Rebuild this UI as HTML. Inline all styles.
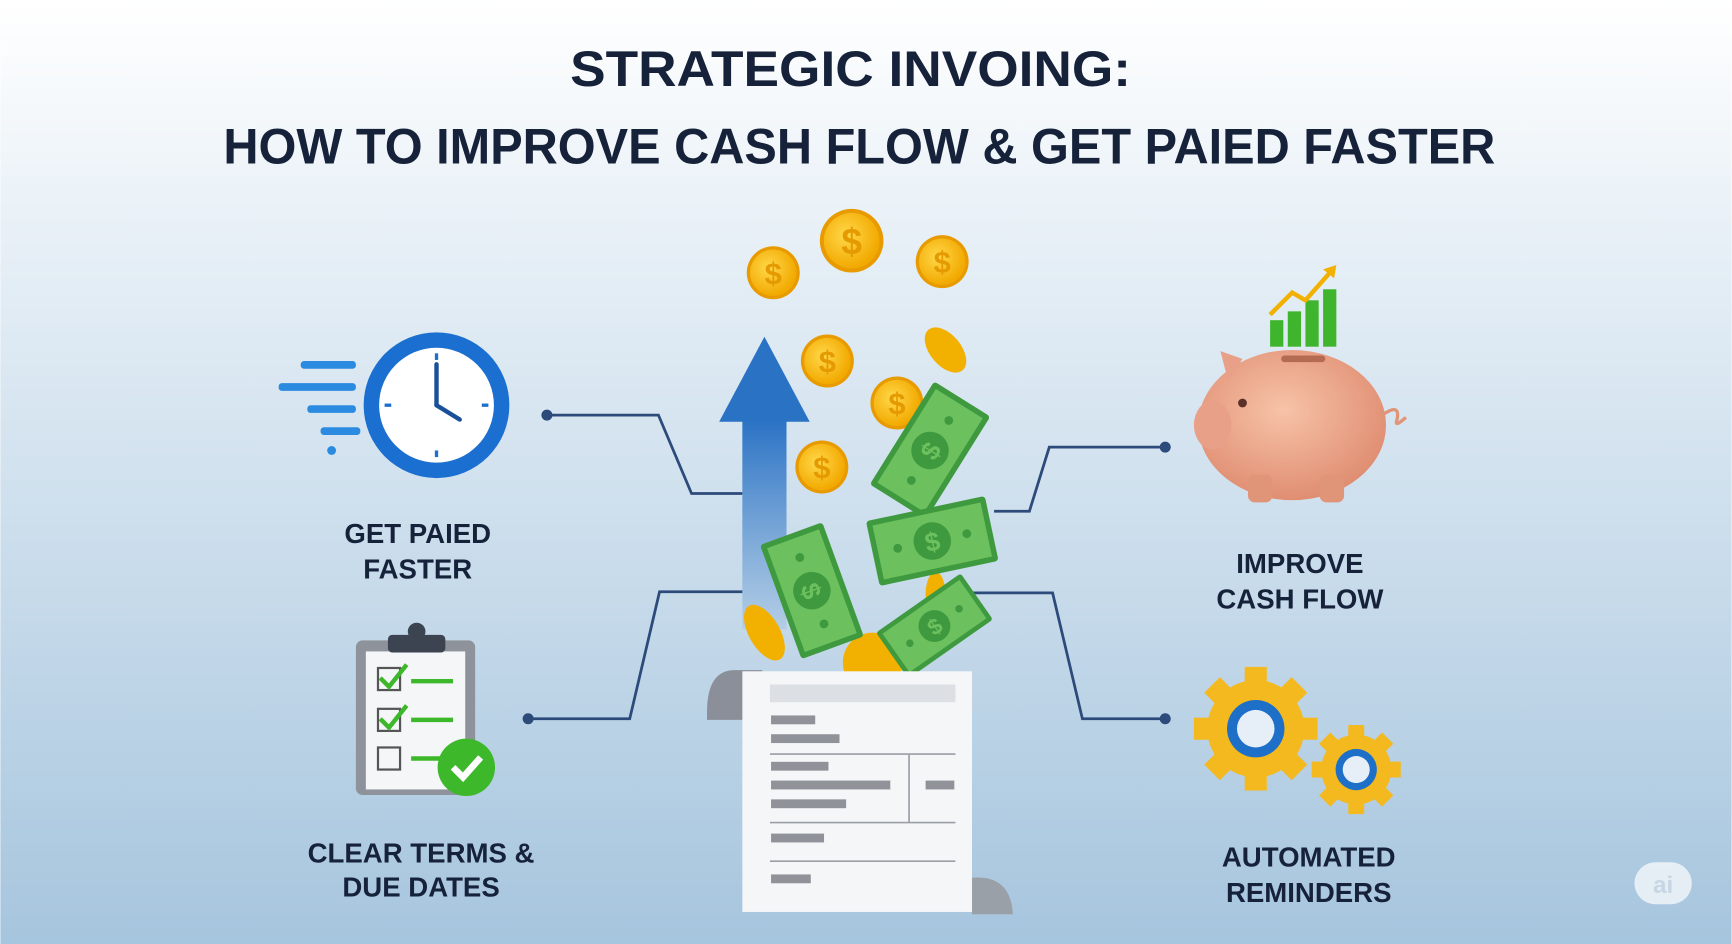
<!DOCTYPE html>
<html><head><meta charset="utf-8"><style>
html,body{margin:0;padding:0;width:1732px;height:944px;overflow:hidden}
svg{display:block}
text{font-family:"Liberation Sans",sans-serif;font-weight:bold;fill:#16213a;text-anchor:middle}
</style></head><body>
<svg width="1732" height="944" viewBox="0 0 1568 855" xmlns="http://www.w3.org/2000/svg">
<defs>
<linearGradient id="bg" x1="0" y1="0" x2="0" y2="1">
<stop offset="0" stop-color="#ffffff"/><stop offset="0.3" stop-color="#e3edf5"/><stop offset="1" stop-color="#a6c5de"/></linearGradient>
<linearGradient id="ar" x1="0" y1="0" x2="0" y2="1">
<stop offset="0" stop-color="#2a72c4"/><stop offset="1" stop-color="#2a72c4" stop-opacity="0.1"/></linearGradient>
<radialGradient id="coin" cx="0.4" cy="0.4" r="0.6"><stop offset="0" stop-color="#ffd84a"/><stop offset="1" stop-color="#f2a900"/></radialGradient>
<radialGradient id="pig" cx="0.45" cy="0.4" r="0.6"><stop offset="0" stop-color="#f7c3a8"/><stop offset="1" stop-color="#e08e72"/></radialGradient>
<g id="c"><circle r="24" fill="#e89b00"/><circle r="21" fill="url(#coin)"/><text y="10" style="font-size:28px;fill:#e49a00">$</text></g>
<g id="bill"><rect x="-55" y="-30" width="110" height="60" rx="3" fill="#3f9a3f"/><rect x="-50" y="-25" width="100" height="50" fill="#6cc15e"/><circle r="17" fill="#3f9a3f"/><text y="9" style="font-size:24px;fill:#6cc15e">$</text><circle cx="-32" cy="0" r="4" fill="#3f9a3f"/><circle cx="32" cy="0" r="4" fill="#3f9a3f"/></g>
<g id="gear"><circle r="44" fill="#f3b91f"/>
<g fill="#f3b91f"><rect x="-10" y="-56" width="20" height="24"/><rect x="-10" y="32" width="20" height="24"/><rect x="-56" y="-10" width="24" height="20"/><rect x="32" y="-10" width="24" height="20"/>
<rect x="-10" y="-56" width="20" height="24" transform="rotate(45)"/><rect x="-10" y="32" width="20" height="24" transform="rotate(45)"/><rect x="-56" y="-10" width="24" height="20" transform="rotate(45)"/><rect x="32" y="-10" width="24" height="20" transform="rotate(45)"/></g>
<circle r="26" fill="#1e6fc7"/><circle r="17" fill="#e6eff7"/></g>
</defs>
<rect width="1568" height="855" fill="url(#bg)"/>
<text x="770" y="78" style="font-size:45px" textLength="508" lengthAdjust="spacingAndGlyphs">STRATEGIC INVOING:</text>
<text x="778" y="148" style="font-size:45px" textLength="1152" lengthAdjust="spacingAndGlyphs">HOW TO IMPROVE CASH FLOW &amp; GET PAIED FASTER</text>

<g fill="none" stroke="#2c4a7a" stroke-width="2.5">
<polyline points="495,376 596,376 626,447 672,447"/>
<polyline points="478,651 570,651 597,536 672,536"/>
<polyline points="1055,405 950,405 932,463 900,463"/>
<polyline points="1055,651 980,651 953,537 880,537"/>
</g>
<g fill="#2c4a7a"><circle cx="495" cy="376" r="5"/><circle cx="478" cy="651" r="5"/><circle cx="1055" cy="405" r="5"/><circle cx="1055" cy="651" r="5"/></g>

<!-- arrow -->
<rect x="672" y="380" width="40" height="190" fill="url(#ar)"/>
<polygon points="651,382 692,305 733,382" fill="#2a72c4"/>

<!-- coins -->
<use href="#c" x="700" y="247"/><use href="#c" x="771" y="218" transform="translate(771 218) scale(1.2) translate(-771 -218)"/><use href="#c" x="853" y="237"/>
<use href="#c" x="749" y="327"/><use href="#c" x="812" y="365"/><use href="#c" x="744" y="423"/>
<ellipse cx="856" cy="317" rx="14" ry="24" fill="#f2b000" transform="rotate(-40 856 317)"/>
<ellipse cx="692" cy="573" rx="14" ry="28" fill="#f2b000" transform="rotate(-30 692 573)"/>
<ellipse cx="847" cy="538" rx="9" ry="20" fill="#f2b000"/>
<circle cx="790" cy="600" r="27" fill="#f2b000"/>
<!-- bills -->
<use href="#bill" transform="translate(842 408) rotate(-58)"/>
<use href="#bill" transform="translate(844 490) rotate(-12)"/>
<use href="#bill" transform="translate(735 535) rotate(70)"/>
<use href="#bill" transform="translate(846 567) rotate(-35) scale(0.85)"/>

<!-- receipt -->
<path d="M640,645 Q640,607 665,607 L690,607 L690,652 L640,652 Z" fill="#8a8f99"/>
<rect x="672" y="608" width="208" height="218" fill="#f4f6f8"/>
<path d="M880,795 Q915,792 917,828 L880,828 Z" fill="#9aa0a8"/>
<rect x="697" y="620" width="168" height="16" fill="#dcdfe3"/>
<g fill="#8f9399"><rect x="698" y="648" width="40" height="8"/><rect x="698" y="665" width="62" height="8"/><rect x="698" y="690" width="52" height="8"/><rect x="698" y="707" width="108" height="8"/><rect x="698" y="724" width="68" height="8"/><rect x="838" y="707" width="26" height="8"/><rect x="698" y="755" width="48" height="8"/><rect x="698" y="792" width="36" height="8"/></g>
<g stroke="#9a9ea5" stroke-width="1.5"><line x1="697" y1="683" x2="865" y2="683"/><line x1="697" y1="745" x2="865" y2="745"/><line x1="823" y1="683" x2="823" y2="745"/><line x1="697" y1="780" x2="865" y2="780"/></g>

<!-- clock -->
<g fill="#2a8be0"><rect x="272" y="327" width="50" height="7" rx="3"/><rect x="252" y="347" width="70" height="7" rx="3"/><rect x="278" y="367" width="44" height="7" rx="3"/><rect x="290" y="387" width="36" height="7" rx="3"/><circle cx="300" cy="408" r="4"/></g>
<circle cx="395" cy="367" r="66" fill="#1a6fd0"/><circle cx="395" cy="367" r="52" fill="#fff"/>
<g stroke="#1a4f9a" stroke-width="4" stroke-linecap="round"><line x1="395" y1="367" x2="395" y2="330"/><line x1="395" y1="367" x2="416" y2="380"/></g>
<g stroke="#1a6fd0" stroke-width="3"><line x1="395" y1="320" x2="395" y2="326"/><line x1="395" y1="408" x2="395" y2="414"/><line x1="348" y1="367" x2="354" y2="367"/><line x1="436" y1="367" x2="442" y2="367"/></g>
<text x="378" y="492" style="font-size:25px">GET PAIED</text>
<text x="378" y="524" style="font-size:25px">FASTER</text>

<!-- clipboard -->
<rect x="322" y="580" width="108" height="140" rx="6" fill="#8e939b"/>
<rect x="331" y="590" width="90" height="125" fill="#f4f6f8"/>
<rect x="351" y="575" width="52" height="16" rx="4" fill="#3c4452"/><circle cx="377" cy="572" r="8" fill="#3c4452"/>
<g fill="none" stroke="#555" stroke-width="2"><rect x="342" y="605" width="20" height="20"/><rect x="342" y="642" width="20" height="20"/><rect x="342" y="677" width="20" height="20"/></g>
<g fill="none" stroke="#3db82a" stroke-width="4"><polyline points="344,614 352,622 368,602"/><polyline points="344,651 352,659 368,639"/><line x1="372" y1="617" x2="410" y2="617"/><line x1="372" y1="652" x2="410" y2="652"/><line x1="372" y1="687" x2="400" y2="687"/></g>
<circle cx="422" cy="695" r="26" fill="#3db82a"/><polyline points="410,695 419,704 435,686" fill="none" stroke="#fff" stroke-width="6"/>
<text x="381" y="781" style="font-size:25px">CLEAR TERMS &amp;</text>
<text x="381" y="812" style="font-size:25px">DUE DATES</text>

<!-- piggy -->
<g fill="#3fb52e"><rect x="1150" y="290" width="12" height="24"/><rect x="1166" y="282" width="12" height="32"/><rect x="1182" y="272" width="12" height="42"/><rect x="1198" y="262" width="12" height="52"/></g>
<polyline points="1150,285 1170,265 1182,272 1205,246" fill="none" stroke="#f2b000" stroke-width="4"/>
<polygon points="1198,244 1210,240 1208,252" fill="#f2b000"/>
<ellipse cx="1170" cy="385" rx="85" ry="68" fill="url(#pig)"/>
<ellipse cx="1098" cy="385" rx="17" ry="22" fill="#e9a088"/>
<polygon points="1105,318 1125,325 1112,345" fill="#e9a088"/>
<rect x="1130" y="430" width="22" height="25" rx="6" fill="#e09478"/><rect x="1195" y="430" width="22" height="25" rx="6" fill="#e09478"/>
<rect x="1160" y="322" width="40" height="6" rx="3" fill="#b56a52"/>
<circle cx="1125" cy="365" r="4" fill="#5a3028"/>
<path d="M1253,375 q15,-10 12,5 q-3,8 8,-2" fill="none" stroke="#e09478" stroke-width="3"/>
<text x="1177" y="519" style="font-size:25px">IMPROVE</text>
<text x="1177" y="551" style="font-size:25px">CASH FLOW</text>

<!-- gears -->
<use href="#gear" transform="translate(1137 660)"/>
<use href="#gear" transform="translate(1228 697) scale(0.72)"/>
<text x="1185" y="785" style="font-size:25px">AUTOMATED</text>
<text x="1185" y="817" style="font-size:25px">REMINDERS</text>

<!-- ai badge -->
<rect x="1480" y="781" width="52" height="38" rx="19" fill="#f4f7fa" opacity="0.8"/>
<text x="1506" y="809" style="font-size:22px;fill:#c6d6e4">ai</text>
</svg>
</body></html>
